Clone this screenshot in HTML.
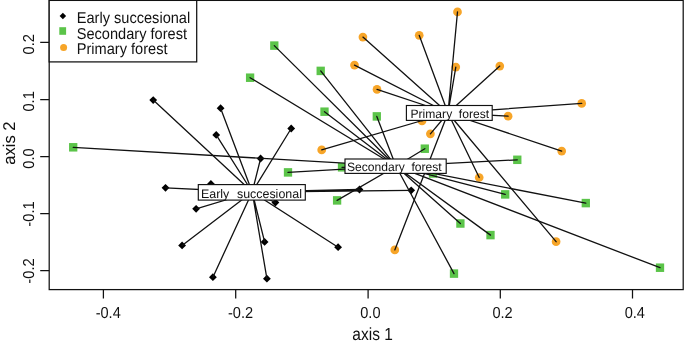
<!DOCTYPE html>
<html><head><meta charset="utf-8"><title>Ordination plot</title>
<style>html,body{margin:0;padding:0;background:#fff;}text.t{filter:grayscale(1);text-rendering:geometricPrecision;}body{width:685px;height:345px;overflow:hidden;position:relative;font-family:"Liberation Sans",Arial,sans-serif;}</style>
</head><body>
<svg width="685" height="345" viewBox="0 0 685 345" style="display:block;position:absolute;left:0;top:0" font-family="'Liberation Sans', Arial, sans-serif" font-size="15" fill="#111">
<rect x="0" y="0" width="685" height="345" fill="#fff"/>
<path d="M149.3 100.1L153.2 96.2L157.1 100.1L153.2 104.0Z" fill="#000"/>
<path d="M216.7 108.2L220.6 104.3L224.5 108.2L220.6 112.1Z" fill="#000"/>
<path d="M212.3 134.9L216.2 131.0L220.1 134.9L216.2 138.8Z" fill="#000"/>
<path d="M287.3 128.5L291.2 124.6L295.1 128.5L291.2 132.4Z" fill="#000"/>
<path d="M256.7 158.5L260.6 154.6L264.5 158.5L260.6 162.4Z" fill="#000"/>
<path d="M161.6 187.8L165.5 183.9L169.4 187.8L165.5 191.7Z" fill="#000"/>
<path d="M207.0 184.0L210.9 180.1L214.8 184.0L210.9 187.9Z" fill="#000"/>
<path d="M192.2 208.8L196.1 204.9L200.0 208.8L196.1 212.7Z" fill="#000"/>
<path d="M271.5 202.5L275.4 198.6L279.3 202.5L275.4 206.4Z" fill="#000"/>
<path d="M178.2 245.4L182.1 241.5L186.0 245.4L182.1 249.3Z" fill="#000"/>
<path d="M209.0 277.2L212.9 273.3L216.8 277.2L212.9 281.1Z" fill="#000"/>
<path d="M260.7 241.9L264.6 238.0L268.5 241.9L264.6 245.8Z" fill="#000"/>
<path d="M263.0 278.7L266.9 274.8L270.8 278.7L266.9 282.6Z" fill="#000"/>
<path d="M334.2 247.2L338.1 243.3L342.0 247.2L338.1 251.1Z" fill="#000"/>
<path d="M355.6 189.5L359.5 185.6L363.4 189.5L359.5 193.4Z" fill="#000"/>
<path d="M407.3 190.3L411.2 186.4L415.1 190.3L411.2 194.2Z" fill="#000"/>
<rect x="69.05" y="143.05" width="8.3" height="8.5" fill="#5BC449"/>
<rect x="270.15" y="41.35" width="8.3" height="8.5" fill="#5BC449"/>
<rect x="245.95" y="73.45" width="8.3" height="8.5" fill="#5BC449"/>
<rect x="316.55" y="66.65" width="8.3" height="8.5" fill="#5BC449"/>
<rect x="320.35" y="107.45" width="8.3" height="8.5" fill="#5BC449"/>
<rect x="372.65" y="112.15" width="8.3" height="8.5" fill="#5BC449"/>
<rect x="420.65" y="144.45" width="8.3" height="8.5" fill="#5BC449"/>
<rect x="337.85" y="163.05" width="8.3" height="8.5" fill="#5BC449"/>
<rect x="283.85" y="168.15" width="8.3" height="8.5" fill="#5BC449"/>
<rect x="332.95" y="196.15" width="8.3" height="8.5" fill="#5BC449"/>
<rect x="428.85" y="169.25" width="8.3" height="8.5" fill="#5BC449"/>
<rect x="513.15" y="155.55" width="8.3" height="8.5" fill="#5BC449"/>
<rect x="501.05" y="190.15" width="8.3" height="8.5" fill="#5BC449"/>
<rect x="581.65" y="198.85" width="8.3" height="8.5" fill="#5BC449"/>
<rect x="456.25" y="219.25" width="8.3" height="8.5" fill="#5BC449"/>
<rect x="486.35" y="230.85" width="8.3" height="8.5" fill="#5BC449"/>
<rect x="449.85" y="269.35" width="8.3" height="8.5" fill="#5BC449"/>
<rect x="655.85" y="263.45" width="8.3" height="8.5" fill="#5BC449"/>
<circle cx="457.5" cy="11.9" r="4.35" fill="#F7A528"/>
<circle cx="362.9" cy="37.1" r="4.35" fill="#F7A528"/>
<circle cx="419.2" cy="35.3" r="4.35" fill="#F7A528"/>
<circle cx="354.5" cy="65.1" r="4.35" fill="#F7A528"/>
<circle cx="455.8" cy="67.1" r="4.35" fill="#F7A528"/>
<circle cx="499.8" cy="66.1" r="4.35" fill="#F7A528"/>
<circle cx="377.0" cy="89.4" r="4.35" fill="#F7A528"/>
<circle cx="581.7" cy="103.4" r="4.35" fill="#F7A528"/>
<circle cx="508.1" cy="116.2" r="4.35" fill="#F7A528"/>
<circle cx="422.0" cy="121.0" r="4.35" fill="#F7A528"/>
<circle cx="430.4" cy="133.8" r="4.35" fill="#F7A528"/>
<circle cx="321.7" cy="149.9" r="4.35" fill="#F7A528"/>
<circle cx="561.7" cy="151.1" r="4.35" fill="#F7A528"/>
<circle cx="479.2" cy="177.5" r="4.35" fill="#F7A528"/>
<circle cx="556.1" cy="241.7" r="4.35" fill="#F7A528"/>
<circle cx="394.8" cy="249.9" r="4.35" fill="#F7A528"/>
<path d="M252.2 192.0L153.2 100.1M252.2 192.0L220.6 108.2M252.2 192.0L216.2 134.9M252.2 192.0L291.2 128.5M252.2 192.0L260.6 158.5M252.2 192.0L165.5 187.8M252.2 192.0L210.9 184.0M252.2 192.0L196.1 208.8M252.2 192.0L275.4 202.5M252.2 192.0L182.1 245.4M252.2 192.0L212.9 277.2M252.2 192.0L264.6 241.9M252.2 192.0L266.9 278.7M252.2 192.0L338.1 247.2M252.2 192.0L359.5 189.5M252.2 192.0L411.2 190.3" stroke="#111" stroke-width="1.3" stroke-linecap="round" fill="none"/>
<path d="M396.0 166.2L73.2 147.3M396.0 166.2L274.3 45.6M396.0 166.2L250.1 77.7M396.0 166.2L320.7 70.9M396.0 166.2L324.5 111.7M396.0 166.2L376.8 116.4M396.0 166.2L424.8 148.7M396.0 166.2L342.0 167.3M396.0 166.2L288.0 172.4M396.0 166.2L337.1 200.4M396.0 166.2L433.0 173.5M396.0 166.2L517.3 159.8M396.0 166.2L505.2 194.4M396.0 166.2L585.8 203.1M396.0 166.2L460.4 223.5M396.0 166.2L490.5 235.1M396.0 166.2L454.0 273.6M396.0 166.2L660.0 267.7" stroke="#111" stroke-width="1.3" stroke-linecap="round" fill="none"/>
<path d="M448.0 113.0L457.5 11.9M448.0 113.0L362.9 37.1M448.0 113.0L419.2 35.3M448.0 113.0L354.5 65.1M448.0 113.0L455.8 67.1M448.0 113.0L499.8 66.1M448.0 113.0L377.0 89.4M448.0 113.0L581.7 103.4M448.0 113.0L508.1 116.2M448.0 113.0L422.0 121.0M448.0 113.0L430.4 133.8M448.0 113.0L321.7 149.9M448.0 113.0L561.7 151.1M448.0 113.0L479.2 177.5M448.0 113.0L556.1 241.7M448.0 113.0L394.8 249.9" stroke="#111" stroke-width="1.3" stroke-linecap="round" fill="none"/>
<rect x="49.2" y="0.4" width="634.0" height="289.20000000000005" fill="none" stroke="#111" stroke-width="1.25"/>
<path d="M103.4 289.6V298.6M235.7 289.6V298.6M368.1 289.6V298.6M500.3 289.6V298.6M632.5 289.6V298.6M49.2 42.4H40.2M49.2 99.5H40.2M49.2 156.6H40.2M49.2 213.6H40.2M49.2 270.6H40.2" stroke="#111" stroke-width="1.25" fill="none"/>
<text class="t" transform="translate(108.2 317.5) scale(0.917 1)" text-anchor="middle" font-size="15.9">-0.4</text>
<text class="t" transform="translate(240.5 317.5) scale(0.917 1)" text-anchor="middle" font-size="15.9">-0.2</text>
<text class="t" transform="translate(370.4 317.5) scale(0.917 1)" text-anchor="middle" font-size="15.9">0.0</text>
<text class="t" transform="translate(502.6 317.5) scale(0.917 1)" text-anchor="middle" font-size="15.9">0.2</text>
<text class="t" transform="translate(634.8 317.5) scale(0.917 1)" text-anchor="middle" font-size="15.9">0.4</text>
<text class="t" transform="translate(34.2 44.3) rotate(-90) scale(0.93 1)" text-anchor="middle" font-size="15.8">0.2</text>
<text class="t" transform="translate(34.2 101.4) rotate(-90) scale(0.93 1)" text-anchor="middle" font-size="15.8">0.1</text>
<text class="t" transform="translate(34.2 158.5) rotate(-90) scale(0.93 1)" text-anchor="middle" font-size="15.8">0.0</text>
<text class="t" transform="translate(34.2 214.0) rotate(-90) scale(0.93 1)" text-anchor="middle" font-size="15.8">-0.1</text>
<text class="t" transform="translate(34.2 271.0) rotate(-90) scale(0.93 1)" text-anchor="middle" font-size="15.8">-0.2</text>
<text class="t" transform="translate(372.6 340.0) scale(0.88 1)" text-anchor="middle" font-size="17.6">axis 1</text>
<text class="t" transform="translate(14.8 143.1) rotate(-90) scale(0.972 1)" text-anchor="middle" font-size="17">axis 2</text>
<rect x="49.2" y="0.4" width="147.5" height="61.5" fill="#fff" stroke="#111" stroke-width="1.25"/>
<path d="M59.6 16.0L62.9 12.8L66.1 16.0L62.9 19.2Z" fill="#000"/>
<rect x="59.30" y="27.20" width="6.8" height="7.6" fill="#5BC449"/>
<circle cx="63.6" cy="47.5" r="3.5" fill="#F7A528"/>
<text class="t" transform="translate(76.7 22.9) scale(0.93 1)" text-anchor="start" font-size="15.7">Early succesional</text>
<text class="t" transform="translate(76.7 38.5) scale(0.93 1)" text-anchor="start" font-size="15.7">Secondary forest</text>
<text class="t" transform="translate(76.7 54.0) scale(0.93 1)" text-anchor="start" font-size="15.7">Primary forest</text>
<rect x="198.3" y="184.6" width="107.0" height="15.5" fill="#fff" stroke="#111" stroke-width="1.15"/>
<text class="t" transform="translate(251.4 197.5) scale(1 1)" text-anchor="middle" font-size="12.45" word-spacing="4.2">Early succesional</text>
<rect x="345.0" y="159.0" width="101.2" height="14.4" fill="#fff" stroke="#111" stroke-width="1.15"/>
<text class="t" transform="translate(394.3 171.0) scale(1 1)" text-anchor="middle" font-size="12.1" word-spacing="3.3">Secondary forest</text>
<rect x="406.4" y="105.5" width="85.8" height="14.9" fill="#fff" stroke="#111" stroke-width="1.15"/>
<text class="t" transform="translate(449.8 117.8) scale(1 1)" text-anchor="middle" font-size="12.1" word-spacing="3.3">Primary forest</text>
</svg>
</body></html>
